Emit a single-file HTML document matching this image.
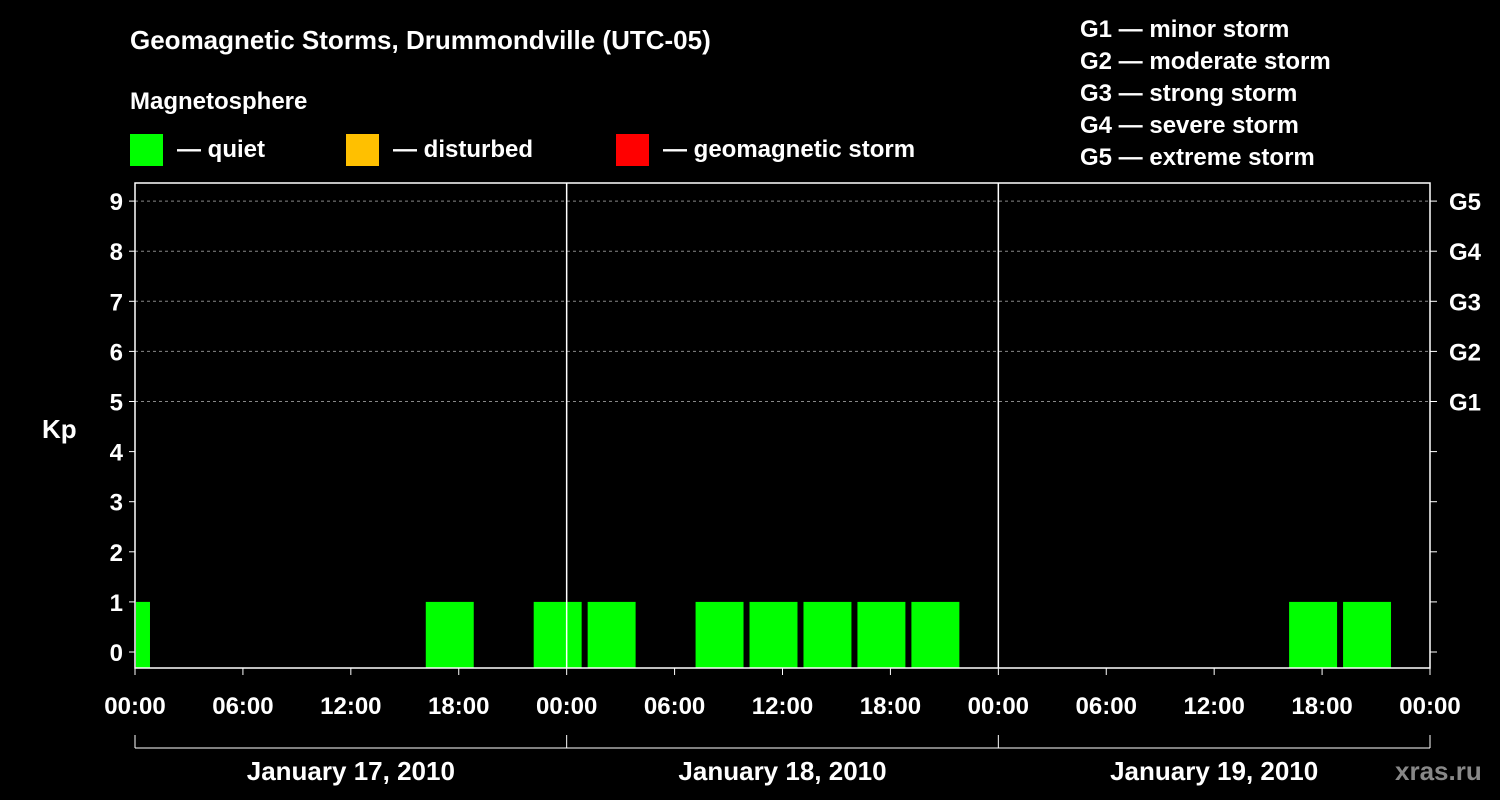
<!DOCTYPE html>
<html><head><meta charset="utf-8"><style>
body{margin:0;background:#000;width:1500px;height:800px;overflow:hidden}
svg{display:block;font-family:"Liberation Sans",Arial,sans-serif;font-weight:bold}
</style></head><body>
<svg id="chart" width="1500" height="800" viewBox="0 0 1500 800">
<text x="130" y="49" fill="#fff" font-size="26">Geomagnetic Storms, Drummondville (UTC-05)</text>
<text x="130" y="109" fill="#fff" font-size="24">Magnetosphere</text>
<g><rect x="130" y="134" width="33" height="32" fill="#00ff00"/><text x="177" y="157" fill="#fff" font-size="24">— quiet</text></g>
<g><rect x="346" y="134" width="33" height="32" fill="#ffc000"/><text x="393" y="157" fill="#fff" font-size="24">— disturbed</text></g>
<g><rect x="616" y="134" width="33" height="32" fill="#ff0000"/><text x="663" y="157" fill="#fff" font-size="24">— geomagnetic storm</text></g>
<g fill="#fff" font-size="24">
<text x="1080" y="37">G1 — minor storm</text><text x="1080" y="69">G2 — moderate storm</text><text x="1080" y="101">G3 — strong storm</text><text x="1080" y="133">G4 — severe storm</text><text x="1080" y="165">G5 — extreme storm</text>
</g>
<g id="grid"></g><g id="bars"></g><g id="axes"></g>
<text x="42" y="438" fill="#fff" font-size="26">Kp</text>
<text x="1395" y="780" fill="#888" font-size="26">xras.ru</text>
</svg>
<script>
const intervalStarts=[-2,1,4,7,10,13,16,19,22,25,28,31,34,37,40,43,46,49,52,55,58,61,64,67,70];
const kpValues=[1,0,0,0,0,0,1,0,1,1,0,1,1,1,1,1,0,0,0,0,0,0,1,1,0];
const yTicks=[0,1,2,3,4,5,6,7,8,9];
const gLabels=["G1","G2","G3","G4","G5"];
const xTickLabels=["00:00","06:00","12:00","18:00","00:00","06:00","12:00","18:00","00:00","06:00","12:00","18:00","00:00"];
const dayLabels=["January 17, 2010","January 18, 2010","January 19, 2010"];
const L=135,R=1430,T=183,B=668,HOURS=72;
const x=h=>L+(R-L)*h/HOURS;
const y=k=>652-k*50.1;
const NS="http://www.w3.org/2000/svg";
function mk(p,t,a){const e=document.createElementNS(NS,t);for(const k in a)e.setAttribute(k,a[k]);p.appendChild(e);return e;}
const grid=document.getElementById('grid'),bars=document.getElementById('bars'),axes=document.getElementById('axes');
for(let i=5;i<=9;i++){const l=mk(grid,'line',{x1:L,x2:R,y1:y(i),y2:y(i),stroke:'#888','stroke-dasharray':'3,3','stroke-width':1});

}
intervalStarts.forEach((s,i)=>{const v=kpValues[i];if(v<=0)return;
let x0=Math.max(x(s)+3,L+1),x1=Math.min(x(s+3)-3,R-1);
const c=v>=5?'#ff0000':(v>=4?'#ffc000':'#00ff00');
const r=mk(bars,'rect',{x:x0,y:y(v),width:x1-x0,height:y(0)-y(v)+16,fill:c});

});
const frame=mk(axes,'rect',{x:L,y:T,width:R-L,height:B-T,fill:'none',stroke:'#fff','stroke-width':1.5});


for(let d=1;d<3;d++){const l=mk(axes,'line',{x1:x(d*24),x2:x(d*24),y1:T,y2:B,stroke:'#fff','stroke-width':1.5});

}
yTicks.forEach(k=>{mk(axes,'line',{x1:L-6,x2:L,y1:y(k),y2:y(k),stroke:'#fff'});mk(axes,'line',{x1:R,x2:R+7,y1:y(k),y2:y(k),stroke:'#fff'});
const t=mk(axes,'text',{x:L-12,y:y(k)+9,fill:'#fff','font-size':24,'text-anchor':'end'});t.textContent=k;

});
gLabels.forEach((g,i)=>{const t=mk(axes,'text',{x:R+19,y:y(5+i)+9,fill:'#fff','font-size':24});t.textContent=g;

});
xTickLabels.forEach((lab,i)=>{const xx=x(i*6);mk(axes,'line',{x1:xx,x2:xx,y1:B,y2:B+7,stroke:'#fff'});
const t=mk(axes,'text',{x:xx,y:714,fill:'#fff','font-size':24,'text-anchor':'middle'});t.textContent=lab;

});
mk(axes,'line',{x1:L,x2:R,y1:748,y2:748,stroke:'#fff'});
for(let d=0;d<=3;d++)mk(axes,'line',{x1:x(d*24),x2:x(d*24),y1:735,y2:748,stroke:'#fff'});
dayLabels.forEach((lab,i)=>{const t=mk(axes,'text',{x:x(i*24+12),y:780,fill:'#fff','font-size':26,'text-anchor':'middle'});t.textContent=lab;

});
</script>
</body></html>
